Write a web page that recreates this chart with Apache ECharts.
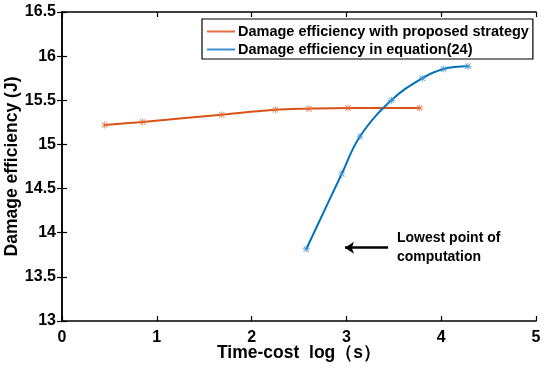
<!DOCTYPE html>
<html>
<head>
<meta charset="utf-8">
<script src="https://cdn.jsdelivr.net/npm/echarts@6/dist/echarts.min.js"></script>
<style>html,body{margin:0;padding:0;background:#fff;}#chart{width:550px;height:368px;}</style>
</head>
<body>
<div id="chart"></div>
<script>
// Data
var seriesNames = ['Damage efficiency with proposed strategy', 'Damage efficiency in equation(24)'];
var proposedX = [0.45, 0.85, 1.685, 2.25, 2.605, 3.017, 3.773];
var proposedY = [15.22, 15.255, 15.337, 15.393, 15.405, 15.413, 15.413];
var equationX = [2.577, 2.95, 3.143, 3.474, 3.80, 4.026, 4.283];
var equationY = [13.816, 14.665, 15.09, 15.5, 15.75, 15.855, 15.885];
var arrowStart = [3.44, 13.83];
var arrowEnd = [2.985, 13.83];
var annotationLines = ['Lowest point of', 'computation'];

function pairs(xs, ys) { return xs.map(function (x, i) { return [x, ys[i]]; }); }

var FONT = 'Liberation Sans, Arial, sans-serif';
var star = 'path://M9,0 L11,0 L11,20 L9,20 Z M0,9 L20,9 L20,11 L0,11 Z M1.4,2.8 L2.8,1.4 L18.6,17.2 L17.2,18.6 Z M17.2,1.4 L18.6,2.8 L2.8,18.6 L1.4,17.2 Z';

var chart = echarts.init(document.getElementById('chart'));
var axisLine = { show: true, lineStyle: { color: '#000', width: 1.5 } };
var tickIn = { show: true, inside: true, length: 5, lineStyle: { color: '#000', width: 1.2 } };
var option = {
  animation: false,
  backgroundColor: '#fff',
  grid: { left: 62, right: 14, top: 12, bottom: 47, containLabel: false, outerBoundsMode: 'none' },
  legend: {
    left: 202, top: 19, orient: 'vertical',
    backgroundColor: '#fff', borderColor: '#000', borderWidth: 1.2,
    padding: [5, 4, 2, 5], itemGap: 3,
    itemWidth: 28, itemHeight: 2, icon: 'rect',
    textStyle: { fontFamily: FONT, fontWeight: 'bold', fontSize: 14.5, color: '#000', padding: [0, 0, 0, -2] },
    data: seriesNames
  },
  xAxis: [{
    type: 'value', min: 0, max: 5, interval: 1, position: 'bottom',
    name: 'Time-cost  log\uFF08s\uFF09', nameLocation: 'middle', nameGap: 23, nameMoveOverlap: false,
    nameTextStyle: { fontFamily: FONT, fontWeight: 'bold', fontSize: 17.5, color: '#000' },
    axisLine: axisLine, axisTick: tickIn,
    axisLabel: { fontFamily: FONT, fontWeight: 'bold', fontSize: 16, color: '#000', margin: 9 },
    splitLine: { show: false }
  }, {
    type: 'value', min: 0, max: 5, interval: 1, position: 'top',
    axisLine: axisLine, axisTick: tickIn, axisLabel: { show: false }, splitLine: { show: false }
  }],
  yAxis: [{
    type: 'value', min: 13, max: 16.5, interval: 0.5, position: 'left',
    name: 'Damage efficiency (J)', nameLocation: 'middle', nameGap: 41, nameMoveOverlap: false,
    nameTextStyle: { fontFamily: FONT, fontWeight: 'bold', fontSize: 17.5, color: '#000' },
    axisLine: axisLine, axisTick: tickIn,
    axisLabel: { fontFamily: FONT, fontWeight: 'bold', fontSize: 16, color: '#000', margin: 6 },
    splitLine: { show: false }
  }, {
    type: 'value', min: 13, max: 16.5, interval: 0.5, position: 'right',
    axisLine: axisLine, axisTick: tickIn, axisLabel: { show: false }, splitLine: { show: false }
  }],
  series: [{
    name: seriesNames[0], type: 'line', data: pairs(proposedX, proposedY),
    smooth: 0.3, symbol: star, symbolSize: 7, showAllSymbol: true,
    color: '#D95319', lineStyle: { width: 2, color: '#D95319' },
    itemStyle: { color: '#E0703E' }
  }, {
    name: seriesNames[1], type: 'line', data: pairs(equationX, equationY),
    smooth: 0.4, symbol: star, symbolSize: 7, showAllSymbol: true,
    color: '#0072BD', lineStyle: { width: 2, color: '#0072BD' },
    itemStyle: { color: '#3A8FD0' },
    markLine: {
      silent: true, symbol: ['none', 'arrow'], symbolSize: [9, 9],
      label: { show: false },
      lineStyle: { color: '#000', width: 2.5, type: 'solid' },
      data: [[{ coord: arrowStart }, { coord: arrowEnd }]]
    }
  }],
  graphic: [{
    type: 'text', left: 397, top: 229,
    style: { text: annotationLines.join('\n'), fontFamily: FONT, fontWeight: 'bold', fontSize: 14, lineHeight: 19, fill: '#000' }
  }]
};
chart.setOption(option);
</script>
</body>
</html>
